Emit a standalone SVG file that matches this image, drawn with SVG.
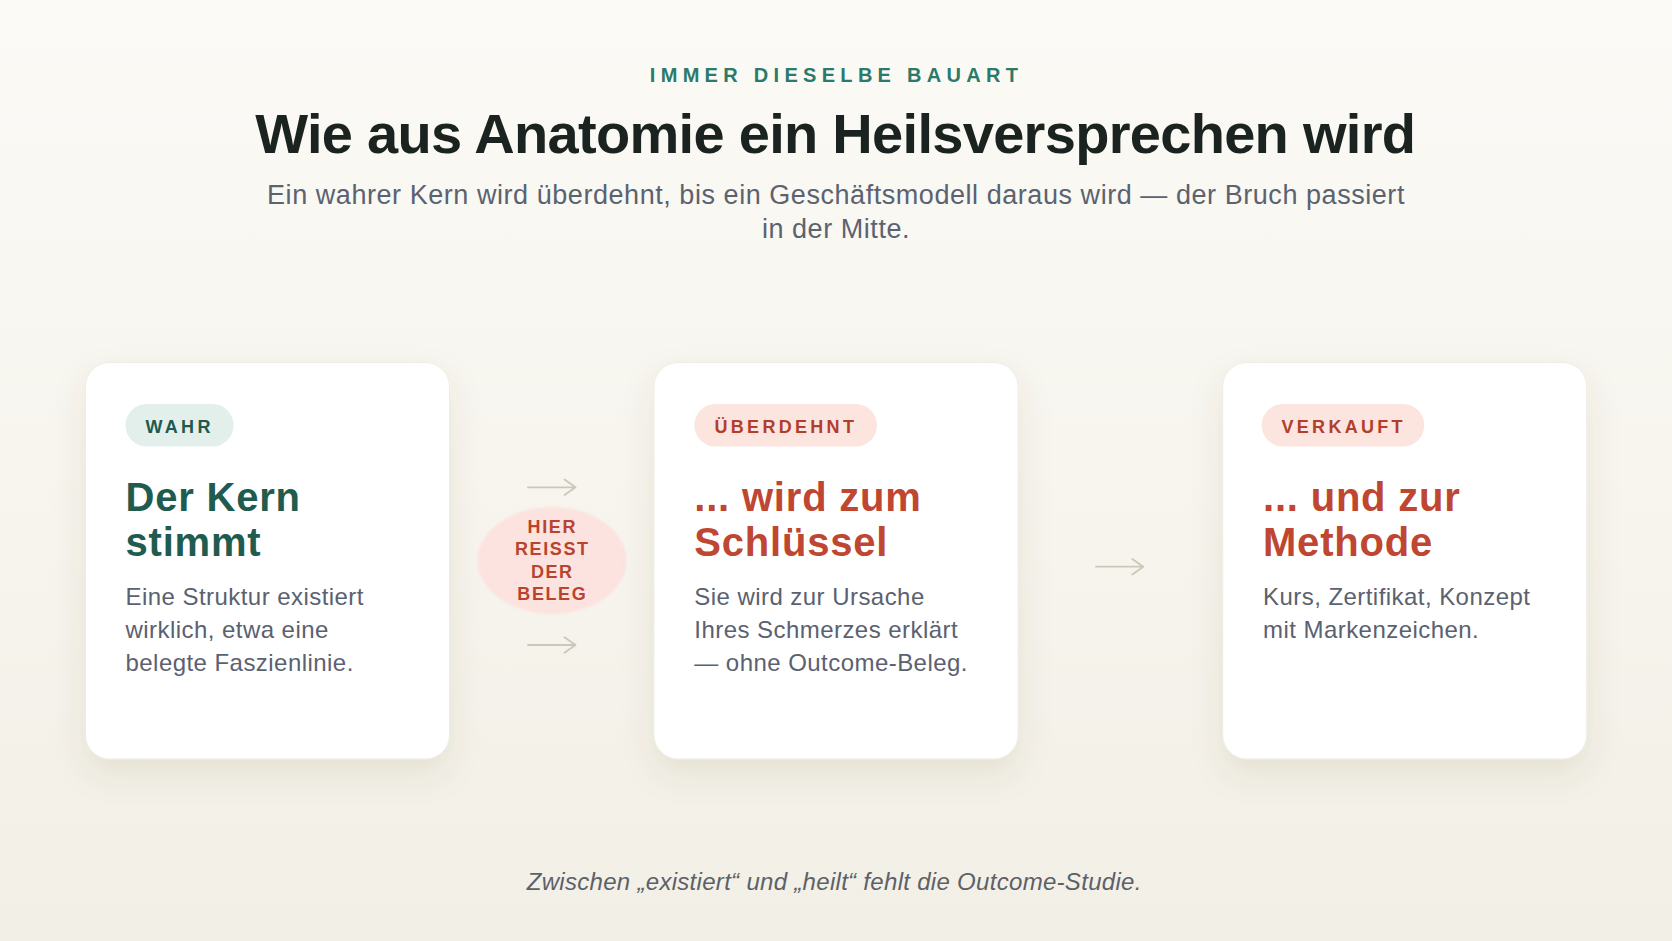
<svg xmlns="http://www.w3.org/2000/svg" width="1672" height="941" viewBox="0 0 1672 941">
  <defs>
    <linearGradient id="bg" x1="0" y1="0" x2="0" y2="1">
      <stop offset="0" stop-color="#fbfaf6"/>
      <stop offset="0.5" stop-color="#f7f5ee"/>
      <stop offset="1" stop-color="#f2efe6"/>
    </linearGradient>
    <filter id="cardShadow" x="-20%" y="-20%" width="140%" height="150%">
      <feDropShadow dx="0" dy="14" stdDeviation="16" flood-color="#5a4a20" flood-opacity="0.10"/>
    </filter>
    <filter id="soft" x="-10%" y="-10%" width="120%" height="120%">
      <feGaussianBlur stdDeviation="1.2"/>
    </filter>
  </defs>
  <style>
    text { font-family: "Liberation Sans", Arial, Helvetica, sans-serif; }
    .eyebrow { font-size: 20px; font-weight: 700; letter-spacing: 5.3px; fill: #2b7a6b; }
    .title { font-size: 56px; font-weight: 700; letter-spacing: -0.7px; fill: #1b2320; }
    .sub { font-size: 27px; letter-spacing: 0.55px; fill: #5b6270; }
    .card { fill: #ffffff; stroke: #efece4; stroke-width: 1; filter: url(#cardShadow); }
    .pill-green { fill: #e3efea; }
    .pill-red { fill: #fce4df; }
    .tag { font-size: 18px; font-weight: 700; letter-spacing: 3.3px; }
    .tag-green { fill: #1e5a4d; }
    .tag-red { fill: #b23f2b; }
    .head { font-size: 40px; font-weight: 700; letter-spacing: 0.8px; }
    .head-green { fill: #1f5b4e; }
    .head-red { fill: #bf4630; }
    .body { font-size: 24px; letter-spacing: 0.45px; fill: #5a6170; }
    .break-text { font-size: 18px; font-weight: 700; letter-spacing: 1.6px; fill: #b8432e; }
    .arrow { fill: none; stroke: #cbc8ba; stroke-width: 1.8; stroke-linecap: round; stroke-linejoin: round; }
    .foot { font-size: 24px; font-style: italic; letter-spacing: 0.3px; fill: #5c6168; }
  </style>

  <rect x="0" y="0" width="1672" height="941" fill="url(#bg)"/>

  <g id="header">
    <text class="eyebrow" x="836.6" y="81.5" text-anchor="middle">IMMER DIESELBE BAUART</text>
    <text class="title" x="835.3" y="153.3" text-anchor="middle">Wie aus Anatomie ein Heilsversprechen wird</text>
    <text class="sub" x="836" y="204" text-anchor="middle">Ein wahrer Kern wird überdehnt, bis ein Geschäftsmodell daraus wird — der Bruch passiert</text>
    <text class="sub" x="836" y="237.5" text-anchor="middle">in der Mitte.</text>
  </g>

  <g id="card-wahr">
    <rect class="card" x="85.5" y="362.5" width="364" height="396.5" rx="24"/>
    <rect class="pill-green" x="125.5" y="404" width="108" height="42.5" rx="21.25"/>
    <text class="tag tag-green" x="145.5" y="432.7">WAHR</text>
    <text class="head head-green" x="125.5" y="510.5">Der Kern</text>
    <text class="head head-green" x="125.5" y="556">stimmt</text>
    <text class="body" x="125.5" y="605">Eine Struktur existiert</text>
    <text class="body" x="125.5" y="638">wirklich, etwa eine</text>
    <text class="body" x="125.5" y="671">belegte Faszienlinie.</text>
  </g>

  <g id="break">
    <ellipse cx="552" cy="560.5" rx="74.5" ry="53.5" fill="#fce3df" filter="url(#soft)"/>
    <text class="break-text" x="552.3" y="533.3" text-anchor="middle">HIER</text>
    <text class="break-text" x="552.3" y="555.3" text-anchor="middle">REISST</text>
    <text class="break-text" x="552.3" y="577.5" text-anchor="middle">DER</text>
    <text class="break-text" x="552.3" y="600" text-anchor="middle">BELEG</text>
  </g>

  <g id="card-ueberdehnt">
    <rect class="card" x="654" y="362.5" width="364" height="396.5" rx="24"/>
    <rect class="pill-red" x="694.3" y="404" width="182.7" height="42.5" rx="21.25"/>
    <text class="tag tag-red" x="714.5" y="432.7">ÜBERDEHNT</text>
    <text class="head head-red" x="694.3" y="510.5">... wird zum</text>
    <text class="head head-red" x="694.3" y="556">Schlüssel</text>
    <text class="body" x="694.3" y="605">Sie wird zur Ursache</text>
    <text class="body" x="694.3" y="638">Ihres Schmerzes erklärt</text>
    <text class="body" x="694.3" y="671">— ohne Outcome-Beleg.</text>
  </g>

  <g id="card-verkauft">
    <rect class="card" x="1222.7" y="362.5" width="364" height="396.5" rx="24"/>
    <rect class="pill-red" x="1261.7" y="404" width="162.6" height="42.5" rx="21.25"/>
    <text class="tag tag-red" x="1281.5" y="432.7">VERKAUFT</text>
    <text class="head head-red" x="1263" y="510.5">... und zur</text>
    <text class="head head-red" x="1263" y="556">Methode</text>
    <text class="body" x="1263" y="605">Kurs, Zertifikat, Konzept</text>
    <text class="body" x="1263" y="638">mit Markenzeichen.</text>
  </g>

  <g id="connectors">
    <path class="arrow" d="M528 487.3 H575.5 M564.5 479.6 L575.5 487.3 L564.5 495"/>
    <path class="arrow" d="M528 645 H575.5 M564.5 637.3 L575.5 645 L564.5 652.7"/>
    <path class="arrow" d="M1096 566.7 H1143.3 M1132.3 559 L1143.3 566.7 L1132.3 574.4"/>
  </g>

  <g id="footer">
    <text class="foot" x="834.2" y="890" text-anchor="middle">Zwischen „existiert“ und „heilt“ fehlt die Outcome-Studie.</text>
  </g>
</svg>
